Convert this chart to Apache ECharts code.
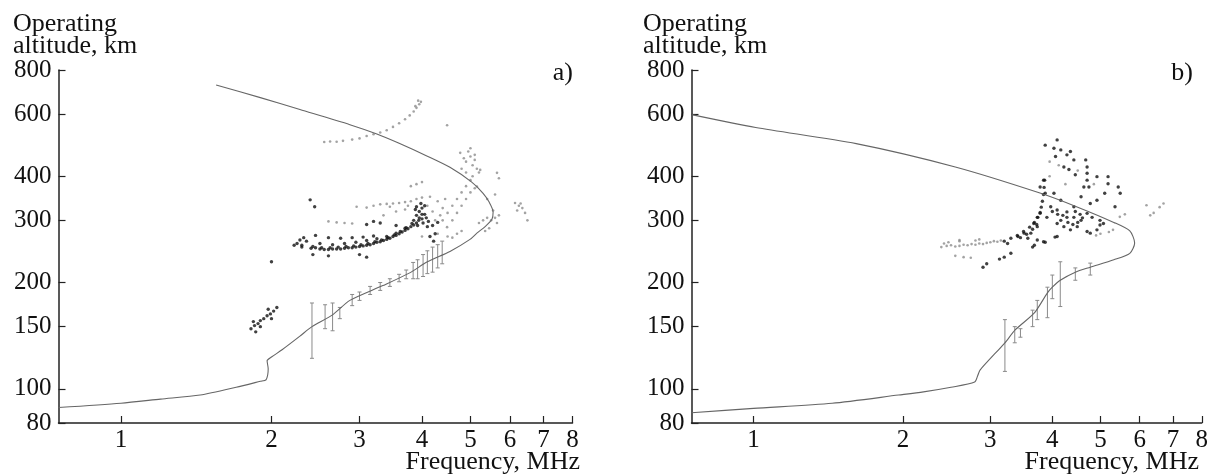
<!DOCTYPE html>
<html>
<head>
<meta charset="utf-8">
<script src="https://cdn.jsdelivr.net/npm/echarts@6.0.0/dist/echarts.min.js"></script>
<style>
html, body { margin: 0; padding: 0; background: #fff; }
#chart { width: 1211px; height: 476px; }
</style>
</head>
<body>
<div id="chart"></div>
<script>
// tick values on both axes
var xTicks = [1, 2, 3, 4, 5, 6, 7, 8];
var yTicks = [80, 100, 150, 200, 300, 400, 600, 800];

// panel a) : model curve [MHz, km]
var curveA = [
    [1.55, 725], [1.9, 668], [2.28, 618], [2.87, 560], [3.25, 527], [3.6, 496], [4.1, 456],
    [4.55, 424], [5.03, 385], [5.3, 358], [5.45, 338], [5.55, 317], [5.52, 302], [5.35, 288],
    [5.15, 276], [4.99, 265], [4.55, 245], [4.1, 229], [3.78, 213], [3.34, 196], [2.87, 178],
    [2.65, 162], [2.41, 150], [2.28, 141], [2.1, 129], [2.0, 123], [1.96, 120], [1.97, 114],
    [1.95, 106], [1.9, 105], [1.7, 101], [1.44, 96], [1.2, 93.5], [1.0, 91], [0.75, 88.5]
];
// panel a) : error bars [MHz, low, high]
var errA = [
    [2.41, 122, 175], [2.56, 148, 173], [2.65, 146, 175], [2.74, 158, 170], [2.9, 172, 185],
    [3.0, 178, 188], [3.15, 185, 195], [3.3, 190, 200], [3.45, 195, 205], [3.6, 201, 211],
    [3.72, 205, 217], [3.84, 205, 228], [3.92, 205, 232], [4.02, 208, 240], [4.1, 212, 246],
    [4.2, 214, 252], [4.3, 220, 256], [4.39, 226, 262]
];
// panel a) : dark points
var darkA = [
    [2.3, 255], [2.4, 250], [2.5, 249], [2.6, 248], [2.7, 249], [2.8, 250], [2.9, 251], [3.0, 253],
    [3.1, 255], [3.2, 258], [3.3, 261], [3.4, 265], [3.5, 270], [3.6, 275], [3.7, 281], [3.8, 288],
    [3.9, 295], [4.0, 303],
    [2.45, 251], [2.55, 248], [2.65, 249], [2.75, 249], [2.85, 251], [2.95, 252], [3.05, 254],
    [3.15, 256], [3.25, 260], [3.35, 263], [3.45, 267], [3.55, 272], [3.65, 278], [3.75, 284], [3.85, 291],
    [2.42, 253], [2.52, 251], [2.62, 251], [2.72, 252], [2.82, 253], [2.92, 254], [3.02, 256], [3.12, 258],
    [3.22, 261], [3.32, 264], [3.42, 268], [3.52, 273], [3.62, 279], [3.72, 286], [3.82, 294], [3.94, 300],
    [2.35, 262], [2.5, 258], [2.65, 256], [2.8, 258], [2.95, 260], [3.1, 263], [3.25, 266], [3.4, 270],
    [3.55, 276], [3.7, 285],
    [2.45, 272], [2.6, 268], [2.75, 267], [2.9, 268], [3.05, 269], [3.2, 271],
    [3.85, 300], [3.9, 310], [3.95, 318], [4.0, 325], [4.05, 312], [3.92, 290], [4.02, 295], [4.08, 305],
    [3.98, 335], [4.05, 330], [3.88, 322], [4.1, 288], [4.12, 298], [3.95, 305], [4.0, 312], [3.9, 328],
    [2.25, 258], [2.28, 264], [2.3, 252], [2.32, 268], [2.22, 255],
    [2.0, 229], [2.39, 343], [2.44, 328], [2.42, 240], [2.6, 238], [3.0, 240], [3.1, 236], [3.55, 290],
    [3.3, 295], [3.1, 292], [3.2, 298], [4.2, 290], [4.25, 275], [4.15, 270], [4.3, 296], [4.22, 262],
    [1.82, 148], [1.85, 151], [1.88, 153], [1.9, 156], [1.93, 158], [1.96, 161], [1.99, 163], [2.02, 166],
    [2.05, 170], [1.84, 155], [1.9, 150], [1.97, 168], [2.0, 158], [1.86, 145]
];
// panel a) : grey points
var grayA = [
    [2.55, 500], [2.62, 502], [2.7, 501], [2.78, 504], [2.9, 508], [3.0, 512], [3.1, 520], [3.2, 526],
    [3.3, 532], [3.4, 540], [3.5, 552], [3.6, 565], [3.7, 580], [3.78, 595], [3.85, 610], [3.9, 625],
    [3.95, 640], [3.98, 650], [3.93, 655], [3.88, 632], [4.49, 558],
    [3.2, 330], [3.3, 333], [3.4, 334], [3.5, 335], [3.6, 336], [3.7, 338], [3.8, 340], [3.9, 345],
    [4.0, 348], [3.45, 328], [3.75, 330], [3.35, 310], [3.55, 318], [3.7, 322], [2.96, 328], [3.1, 326],
    [2.6, 298], [2.7, 296], [2.8, 295], [2.9, 294], [3.8, 375], [3.9, 380], [4.0, 385],
    [4.49, 287], [4.6, 300], [4.7, 315], [4.8, 330], [4.9, 345], [5.0, 360], [5.1, 370], [5.15, 374],
    [4.4, 300], [4.5, 315], [4.6, 330], [4.7, 345], [4.8, 360], [4.9, 375], [5.0, 390], [5.05, 400],
    [4.77, 466], [4.85, 450], [4.9, 440], [4.95, 470], [5.0, 455], [5.05, 430], [5.1, 445], [5.15, 420],
    [5.2, 410], [5.23, 417], [4.8, 420], [4.9, 410], [5.0, 480], [5.1, 460],
    [5.2, 295], [5.3, 300], [5.4, 305], [5.5, 300], [5.6, 305], [5.7, 310], [5.65, 295], [5.45, 285],
    [5.35, 280], [5.55, 320], [5.4, 345], [5.6, 355], [5.65, 409], [5.7, 395],
    [6.14, 336], [6.25, 330], [6.35, 325], [6.43, 315], [6.2, 320], [6.3, 335], [6.5, 300],
    [4.1, 330], [4.2, 318], [4.3, 340], [4.4, 325], [4.25, 300], [4.35, 310], [4.15, 350], [4.45, 345],
    [4.0, 270], [4.3, 275], [4.5, 270], [4.6, 268], [4.7, 275], [4.8, 280]
];

// panel b)
var curveB = [
    [0.75, 598], [1.01, 550], [1.61, 495], [2.55, 425], [3.79, 358], [4.5, 327], [5.32, 296],
    [5.73, 280], [5.86, 259], [5.73, 242], [5.32, 232], [4.77, 221], [4.45, 214], [4.15, 203],
    [4.0, 194], [3.91, 187], [3.68, 164], [3.37, 147], [3.21, 135], [2.86, 113], [2.83, 109],
    [2.79, 104.5], [2.5, 101], [2.2, 98], [1.96, 96], [1.44, 91], [1.0, 88], [0.75, 85.5]
];
var errB = [
    [3.21, 112, 157], [3.36, 135, 150], [3.45, 140, 148], [3.65, 150, 167], [3.73, 157, 178],
    [3.91, 159, 194], [4.0, 180, 210], [4.15, 171, 229], [4.45, 203, 220], [4.77, 210, 227]
];
var darkB = [
    [2.9, 221], [2.95, 226], [3.13, 233], [3.2, 236], [3.3, 242], [3.65, 252], [3.68, 255], [3.87, 260], [4.05, 269],
    [3.2, 262], [3.3, 267], [3.4, 272], [3.5, 279], [3.6, 287], [3.68, 296], [3.74, 306], [3.78, 316],
    [3.8, 327], [3.82, 340], [3.84, 355], [3.85, 372], [3.86, 390],
    [3.25, 258], [3.45, 268], [3.55, 274], [3.65, 283], [3.72, 292],
    [3.87, 490], [4.09, 507], [4.03, 480], [4.16, 475], [4.06, 455], [4.28, 460], [4.35, 470], [4.42, 445],
    [4.22, 425], [4.32, 418], [4.45, 404], [4.67, 445], [4.70, 425], [4.70, 408], [4.70, 390], [4.74, 373],
    [4.63, 373], [4.92, 399], [5.18, 399], [5.18, 381], [5.43, 373], [5.48, 358], [5.10, 358], [5.35, 328],
    [4.92, 342], [4.77, 335], [4.57, 350], [4.42, 328], [4.16, 342], [4.03, 358], [3.84, 390], [3.78, 373],
    [3.87, 358], [3.97, 328], [4.09, 321], [4.28, 317], [4.42, 306], [4.70, 314], [4.81, 306], [4.99, 300],
    [5.07, 294], [4.92, 282], [4.70, 279], [4.57, 300], [4.28, 306], [4.16, 300], [4.09, 294], [4.22, 288],
    [3.90, 306], [3.78, 314], [3.73, 306], [3.67, 294], [3.73, 288], [3.62, 276], [3.51, 276], [3.41, 270],
    [3.57, 267], [3.73, 264], [3.84, 261], [4.09, 270], [4.35, 282], [4.49, 288], [4.99, 291], [4.77, 276],
    [4.2, 310], [4.3, 296], [4.4, 292], [4.5, 296], [4.6, 305], [4.1, 312], [4.0, 318], [4.45, 318], [4.55, 312]
];
var grayB = [
    [2.39, 252], [2.45, 254], [2.5, 255], [2.55, 253], [2.6, 254], [2.65, 256], [2.7, 255], [2.75, 257],
    [2.8, 256], [2.85, 258], [2.9, 257], [2.95, 259], [3.0, 260], [3.05, 262], [3.1, 261], [3.15, 263],
    [2.42, 258], [2.6, 262], [2.8, 263], [2.55, 238], [2.65, 236], [2.74, 235], [2.47, 260], [2.6, 264], [2.85, 265],
    [6.19, 331], [6.58, 327], [6.4, 315], [6.7, 335], [6.3, 310], [5.47, 307], [5.6, 312], [5.2, 278],
    [5.0, 275], [4.9, 272], [5.3, 282],
    [3.95, 440], [4.12, 430], [4.5, 415], [4.85, 380], [3.95, 400], [4.25, 380]
];

var FONT = "'Liberation Serif', 'DejaVu Serif', serif";
var AXIS = "#222";

function xAxisFor(i) {
    return {
        type: "log", logBase: 10, gridIndex: i, min: 0.75, max: 8,
        axisLine: { lineStyle: { color: AXIS, width: 1.5 } },
        axisTick: { inside: true, length: 7, customValues: xTicks, lineStyle: { color: AXIS, width: 1.2 } },
        axisLabel: {
            customValues: xTicks, margin: 5, color: "#111", fontFamily: FONT, fontSize: 25,
            formatter: function (v) { return String(Math.round(v)); }
        },
        splitLine: { show: false }
    };
}
function yAxisFor(i) {
    return {
        type: "log", logBase: 10, gridIndex: i, min: 80, max: 800,
        axisLine: { lineStyle: { color: AXIS, width: 1.5 } },
        axisTick: { inside: true, length: 7, customValues: yTicks, lineStyle: { color: AXIS, width: 1.2 } },
        axisLabel: {
            customValues: yTicks, margin: 7, color: "#111", fontFamily: FONT, fontSize: 25,
            formatter: function (v) { return String(Math.round(v)); }
        },
        splitLine: { show: false }
    };
}

function renderErr(params, api) {
    var x = api.value(0);
    var p1 = api.coord([x, api.value(1)]);
    var p2 = api.coord([x, api.value(2)]);
    var w = 2;
    var st = { stroke: "#8a8a8a", lineWidth: 1 };
    return {
        type: "group",
        children: [
            { type: "line", shape: { x1: p1[0], y1: p1[1], x2: p2[0], y2: p2[1] }, style: st },
            { type: "line", shape: { x1: p1[0] - w, y1: p1[1], x2: p1[0] + w, y2: p1[1] }, style: st },
            { type: "line", shape: { x1: p2[0] - w, y1: p2[1], x2: p2[0] + w, y2: p2[1] }, style: st }
        ]
    };
}

function panelSeries(i, curve, err, dark, gray) {
    return [
        {
            type: "line", xAxisIndex: i, yAxisIndex: i, data: curve, showSymbol: false,
            smooth: 0.25, lineStyle: { color: "#666", width: 1.1 }, silent: true
        },
        {
            type: "custom", xAxisIndex: i, yAxisIndex: i, data: err, renderItem: renderErr,
            encode: { x: 0, y: [1, 2] }, silent: true
        },
        {
            type: "scatter", xAxisIndex: i, yAxisIndex: i, data: gray, symbolSize: 2.6,
            itemStyle: { color: "#8c8c8c" }, silent: true
        },
        {
            type: "scatter", xAxisIndex: i, yAxisIndex: i, data: dark, symbolSize: 3.4,
            itemStyle: { color: "#111" }, silent: true
        }
    ];
}

function txt(text, x, y, align) {
    return {
        type: "text", x: x, y: y,
        style: { text: text, fill: "#111", font: "26px " + FONT, textAlign: align || "left", textVerticalAlign: "middle" }
    };
}

var chart = echarts.init(document.getElementById("chart"));
chart.setOption({
    backgroundColor: "#fff",
    animation: false,
    grid: [
        { left: 58.5, top: 70, width: 514, height: 353 },
        { left: 691.5, top: 70, width: 514, height: 353 }
    ],
    xAxis: [xAxisFor(0), xAxisFor(1)],
    yAxis: [yAxisFor(0), yAxisFor(1)],
    series: panelSeries(0, curveA, errA, darkA, grayA).concat(panelSeries(1, curveB, errB, darkB, grayB)),
    graphic: [
        txt("Operating", 13, 24), txt("altitude, km", 13, 46),
        txt("Operating", 643, 24), txt("altitude, km", 643, 46),
        txt("a)", 573, 73, "right"), txt("b)", 1193, 73, "right"),
        txt("Frequency, MHz", 580, 462, "right"), txt("Frequency, MHz", 1199, 462, "right")
    ]
});
</script>
</body>
</html>
